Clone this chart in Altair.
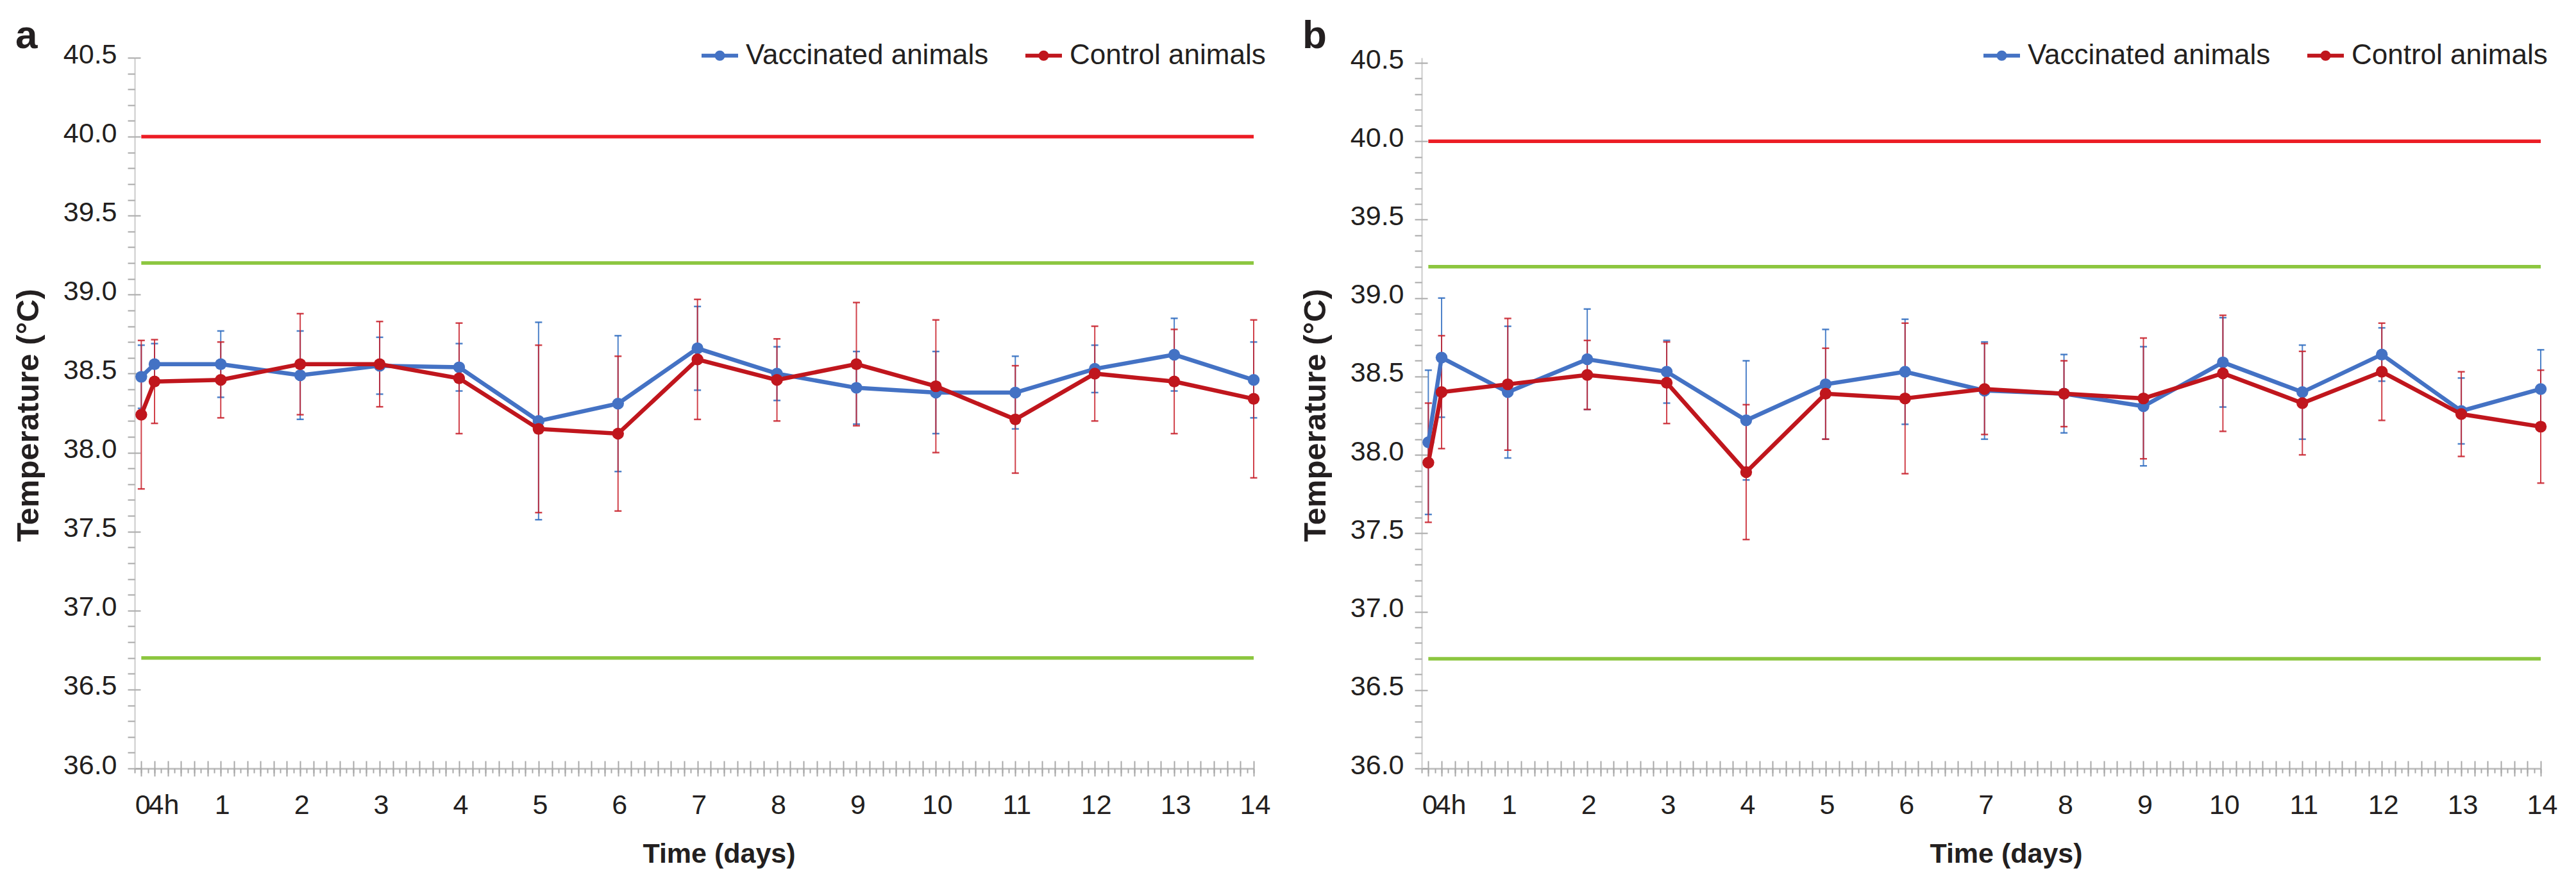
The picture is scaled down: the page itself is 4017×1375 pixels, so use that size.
import altair as alt
import pandas as pd

# ---------------- data ----------------
time_days = [0, 4 / 24, 1, 2, 3, 4, 5, 6, 7, 8, 9, 10, 11, 12, 13, 14]
x_tick_labels = ["0", "4h", "1", "2", "3", "4", "5", "6", "7", "8", "9", "10", "11", "12", "13", "14"]
series_names = ["Vaccinated animals", "Control animals"]

a_vacc_mean = [38.48, 38.56, 38.56, 38.49, 38.55, 38.54, 38.20, 38.31, 38.66, 38.50, 38.41, 38.38, 38.38, 38.53, 38.62, 38.46]
a_vacc_sd = [0.20, 0.13, 0.21, 0.28, 0.18, 0.15, 0.625, 0.43, 0.265, 0.17, 0.23, 0.26, 0.23, 0.15, 0.23, 0.24]
a_ctrl_mean = [38.24, 38.45, 38.46, 38.56, 38.56, 38.47, 38.15, 38.12, 38.59, 38.46, 38.56, 38.42, 38.21, 38.50, 38.45, 38.34]
a_ctrl_sd = [0.47, 0.265, 0.24, 0.32, 0.27, 0.35, 0.53, 0.49, 0.38, 0.26, 0.39, 0.42, 0.34, 0.30, 0.33, 0.50]

b_vacc_mean = [38.08, 38.62, 38.40, 38.61, 38.53, 38.22, 38.45, 38.53, 38.41, 38.39, 38.31, 38.59, 38.40, 38.64, 38.28, 38.42]
b_vacc_sd = [0.46, 0.38, 0.42, 0.32, 0.20, 0.38, 0.35, 0.335, 0.31, 0.25, 0.38, 0.285, 0.30, 0.17, 0.21, 0.25]
b_ctrl_mean = [37.95, 38.40, 38.45, 38.51, 38.46, 37.89, 38.39, 38.36, 38.42, 38.39, 38.36, 38.52, 38.33, 38.53, 38.26, 38.18]
b_ctrl_sd = [0.38, 0.36, 0.42, 0.22, 0.26, 0.43, 0.29, 0.48, 0.29, 0.21, 0.385, 0.37, 0.33, 0.31, 0.27, 0.36]

upper_limit = [40.0]         # red reference line
normal_range = [39.2, 36.7]  # green reference lines

y_major = [36.0, 36.5, 37.0, 37.5, 38.0, 38.5, 39.0, 39.5, 40.0, 40.5]
y_minor = [round(36.0 + 0.1 * i, 1) for i in range(46)]
x_minor = [(-1 + i) / 12 for i in range(170)]   # every 2 h
x_major = [i / 6 for i in range(85)]            # every 4 h

# ---------------- styles ----------------
FONT = "Liberation Sans, Arial, sans-serif"
TXT = "#231f20"
BLUE = "#4472c4"
RED = "#c0161d"
BLUE_ERR = "#2f6cc0"
RED_ERR = "#c8202a"
REF_RED = "#ec1c24"
REF_GREEN = "#8cc63f"
TICK = "#a8a8a8"

W = 1745
H = 1108
X_DOMAIN = [-1 / 12, 14]
Y_DOMAIN_A = [36.0, 40.5]
# panel b's plot starts a few pixels lower in the original figure
Y_DOMAIN_B = [36.0, 40.5 + 8 * 4.5 / (H - 8)]

LEG_PATH = ("M-1,0L1,0 "
            "M-0.07,0A0.07,0.07 0 1,0 0.07,0A0.07,0.07 0 1,0 -0.07,0 "
            "M-0.175,0A0.175,0.175 0 1,0 0.175,0A0.175,0.175 0 1,0 -0.175,0")

day_values = [t for t, lab in zip(time_days, x_tick_labels) if lab != "4h"]
hour_values = [t for t, lab in zip(time_days, x_tick_labels) if lab == "4h"]
hour_label = [lab for lab in x_tick_labels if lab == "4h"][0]


def make_panel(letter, vm, vs, cm, cs, legend_x, y_domain):
    rows = []
    for name, m, s in ((series_names[0], vm, vs), (series_names[1], cm, cs)):
        for t, mu, sd in zip(time_days, m, s):
            rows.append({"t": t, "series": name, "mean": mu, "lo": mu - sd, "hi": mu + sd})
    df = pd.DataFrame(rows)

    xs = alt.Scale(domain=X_DOMAIN, nice=False, zero=False)
    ys = alt.Scale(domain=y_domain, nice=False, zero=False)
    cscale = alt.Scale(domain=series_names, range=[BLUE, RED])

    def X(field="t"):
        return alt.X(f"{field}:Q", scale=xs, axis=None)

    def Y(field="mean"):
        return alt.Y(f"{field}:Q", scale=ys, axis=None)

    base = alt.Chart(df)
    layers = []

    # reference lines
    for vals, col in ((upper_limit, REF_RED), (normal_range, REF_GREEN)):
        rdf = pd.DataFrame({"v": vals, "x0": time_days[0], "x1": time_days[-1]})
        layers.append(
            alt.Chart(rdf).mark_rule(color=col, strokeWidth=5.5).encode(
                x=alt.X("x0:Q", scale=xs, axis=None), x2="x1:Q", y=alt.Y("v:Q", scale=ys, axis=None)
            )
        )

    # error bars
    for name, col in ((series_names[0], BLUE_ERR), (series_names[1], RED_ERR)):
        sub = base.transform_filter(alt.datum.series == name)
        layers.append(sub.mark_rule(color=col, strokeWidth=2, opacity=0.85).encode(x=X(), y=Y("lo"), y2="hi:Q"))
        layers.append(sub.mark_tick(color=col, orient="horizontal", size=11, thickness=2.5, opacity=0.85).encode(x=X(), y=Y("lo")))
        layers.append(sub.mark_tick(color=col, orient="horizontal", size=11, thickness=2.5, opacity=0.85).encode(x=X(), y=Y("hi")))

    legend = alt.Legend(
        orient="none", legendX=legend_x, legendY=-35, direction="horizontal", columns=2, title=None,
        symbolType=LEG_PATH, symbolSize=3249, symbolStrokeWidth=6,
        labelFont=FONT, labelFontSize=44, labelColor=TXT, labelOffset=9,
        columnPadding=45, padding=0, labelLimit=0,
    )

    # series lines and markers
    for i, name in enumerate(series_names):
        sub = base.transform_filter(alt.datum.series == name)
        layers.append(
            sub.mark_line(strokeWidth=6.5).encode(
                x=X(), y=Y(),
                color=alt.Color("series:N", scale=cscale, legend=legend if i == 0 else None),
            )
        )
        layers.append(
            sub.mark_circle(size=340, opacity=1).encode(
                x=X(), y=Y(), color=alt.Color("series:N", scale=cscale, legend=None)
            )
        )

    # panel letter
    layers.append(
        alt.Chart(pd.DataFrame({"label": [letter]})).mark_text(
            align="left", baseline="alphabetic", font=FONT, fontWeight="bold", fontSize=62,
            color=TXT, x=-186, y=-15,
        ).encode(text="label:N")
    )

    # axes (invisible anchor layers, so several tick sets can be combined)
    adf = pd.DataFrame({"t": [time_days[0]], "mean": [y_major[0]]})
    anchor = alt.Chart(adf).mark_point(opacity=0)

    x_main = alt.Axis(
        orient="bottom", values=day_values, format="d",
        ticks=False, tickSize=0, domain=True, domainColor="#c4c4c4", domainWidth=3,
        labelFont=FONT, labelFontSize=43, labelColor=TXT, labelPadding=70,
        labelBaseline="alphabetic", labelFlush=False, labelOverlap=False, labelBound=False,
        labelOffset=2,
        title="Time (days)", titleFont=FONT, titleFontWeight="bold", titleFontSize=43,
        titleColor=TXT, titleX=911, titleY=146, titleBaseline="alphabetic", titleAlign="center",
        grid=False,
    )
    x_hour = alt.Axis(
        orient="bottom", values=hour_values, labelExpr=f"'{hour_label}'",
        ticks=False, tickSize=0, domain=False,
        labelFont=FONT, labelFontSize=43, labelColor=TXT, labelPadding=70,
        labelBaseline="alphabetic", labelFlush=False, labelOverlap=False, labelBound=False,
        labelOffset=14, title=None, grid=False,
    )
    y_main = alt.Axis(
        orient="left", values=y_major, format=".1f", ticks=False, tickSize=0,
        domain=True, domainColor="#d4d4d4", domainWidth=2.5,
        labelFont=FONT, labelFontSize=43, labelColor=TXT, labelPadding=28,
        labelBaseline="middle", labelOffset=-5, labelFlush=False, labelOverlap=False, labelBound=False,
        title="Temperature (°C)", titleFont=FONT, titleFontWeight="bold", titleFontSize=49,
        titleColor=TXT, titleX=-151, titleY=557, titleAngle=270, titleBaseline="alphabetic",
        titleAlign="center", grid=False,
    )

    def tick_axis(orient, values, size, offset=0):
        return alt.Axis(
            orient=orient, values=values, labels=False, domain=False, ticks=True,
            tickSize=size, tickColor=TICK, tickWidth=2, title=None, grid=False, offset=offset,
        )

    layers.append(anchor.encode(x=alt.X("t:Q", scale=xs, axis=x_main), y=alt.Y("mean:Q", scale=ys, axis=y_main)))
    layers.append(anchor.encode(x=alt.X("t:Q", scale=xs, axis=x_hour), y=alt.Y("mean:Q", scale=ys, axis=None)))
    layers.append(anchor.encode(x=alt.X("t:Q", scale=xs, axis=tick_axis("bottom", x_minor, 7)),
                                y=alt.Y("mean:Q", scale=ys, axis=tick_axis("left", y_minor, 11))))
    layers.append(anchor.encode(x=alt.X("t:Q", scale=xs, axis=tick_axis("bottom", x_major, 12)),
                                y=alt.Y("mean:Q", scale=ys, axis=tick_axis("right", y_major, 9, -W))))
    layers.append(anchor.encode(x=alt.X("t:Q", scale=xs, axis=tick_axis("top", x_major, 12, -H)),
                                y=alt.Y("mean:Q", scale=ys, axis=None)))

    return alt.layer(*layers).resolve_axis(x="independent", y="independent").properties(width=W, height=H)


pa = make_panel("a", a_vacc_mean, a_vacc_sd, a_ctrl_mean, a_ctrl_sd, 881, Y_DOMAIN_A)
pb = make_panel("b", b_vacc_mean, b_vacc_sd, b_ctrl_mean, b_ctrl_sd, 873, Y_DOMAIN_B)

chart = (
    alt.hconcat(pa, pb, spacing=262, bounds="flush")
    .resolve_scale(color="independent")
    .resolve_legend(color="independent")
    .properties(padding={"left": 12, "top": 17, "right": 5, "bottom": 5}, background="white")
    .configure_view(stroke=None)
    .configure_axis(labelOverlap=False)
)

chart.save("out.html", embed_options={"renderer": "svg", "actions": False})
